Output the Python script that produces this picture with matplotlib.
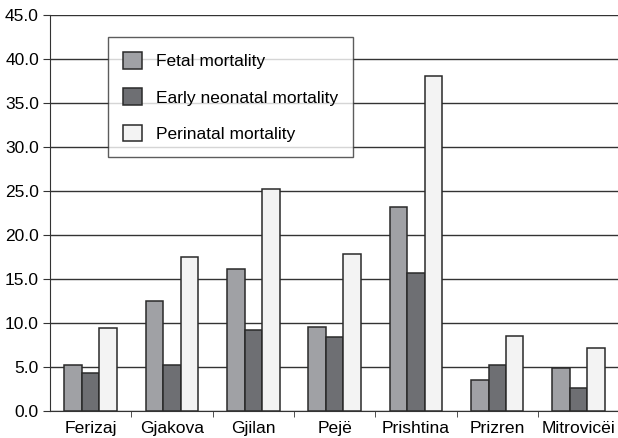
import numpy as np
import matplotlib
matplotlib.use('Agg')
import matplotlib.pyplot as plt

plt.rcParams['font.family'] = ['Liberation Sans', 'DejaVu Sans']

regions = ['Ferizaj', 'Gjakova', 'Gjilan', 'Pejë', 'Prishtina', 'Prizren', 'Mitrovicëi']
fetal = [5.2, 12.5, 16.1, 9.5, 23.2, 3.5, 4.9]
early_neonatal = [4.3, 5.2, 9.2, 8.4, 15.7, 5.2, 2.6]
perinatal = [9.4, 17.5, 25.2, 17.9, 38.1, 8.5, 7.2]

fig = plt.figure(figsize=(6.18, 4.38), dpi=100)
ax = fig.add_axes([0.081, 0.062, 0.921, 0.903])

x = np.arange(len(regions))
w = 0.215
edge = '#2a2a2a'
ax.bar(x - w, fetal, w, color='#a0a1a5', edgecolor=edge, linewidth=1.1, label='Fetal mortality', zorder=3)
ax.bar(x, early_neonatal, w, color='#6e6f73', edgecolor=edge, linewidth=1.1, label='Early neonatal mortality', zorder=3)
ax.bar(x + w, perinatal, w, color='#f3f3f3', edgecolor=edge, linewidth=1.1, label='Perinatal mortality', zorder=3)

ax.set_xlim(-0.5, 6.5)
ax.set_ylim(0, 45)
ax.set_yticks(np.arange(0, 46, 5))
ax.set_yticklabels(['%.1f' % v for v in np.arange(0, 46, 5)], fontsize=12.5)
ax.yaxis.grid(True, color='#333333', linewidth=1.0, zorder=0)
ax.set_axisbelow(True)

ax.set_xticks(x)
ax.set_xticklabels(regions, fontsize=12.6)
ax.set_xticks(np.arange(0.5, 6.5, 1), minor=True)
ax.tick_params(axis='x', which='major', length=0, pad=7)
ax.tick_params(axis='x', which='minor', length=4, color='#333333', direction='out')
ax.tick_params(axis='y', length=5, color='#333333', direction='out', pad=3)

ax.spines['right'].set_visible(False)
ax.spines['top'].set_visible(False)
ax.spines['left'].set_color('#333333')
ax.spines['bottom'].set_color('#333333')

leg = ax.legend(loc='upper left', bbox_to_anchor=(108.3 / 618, 1 - 37.3 / 438),
                bbox_transform=fig.transFigure, fontsize=12.5, frameon=True,
                fancybox=False, handlelength=1.1, handleheight=1.1,
                labelspacing=1.1, borderpad=0.85, handletextpad=0.8,
                borderaxespad=0)
leg.get_frame().set_edgecolor('#333333')
leg.get_frame().set_linewidth(1.0)
leg.set_zorder(5)

fig.savefig('out.png', dpi=100)
